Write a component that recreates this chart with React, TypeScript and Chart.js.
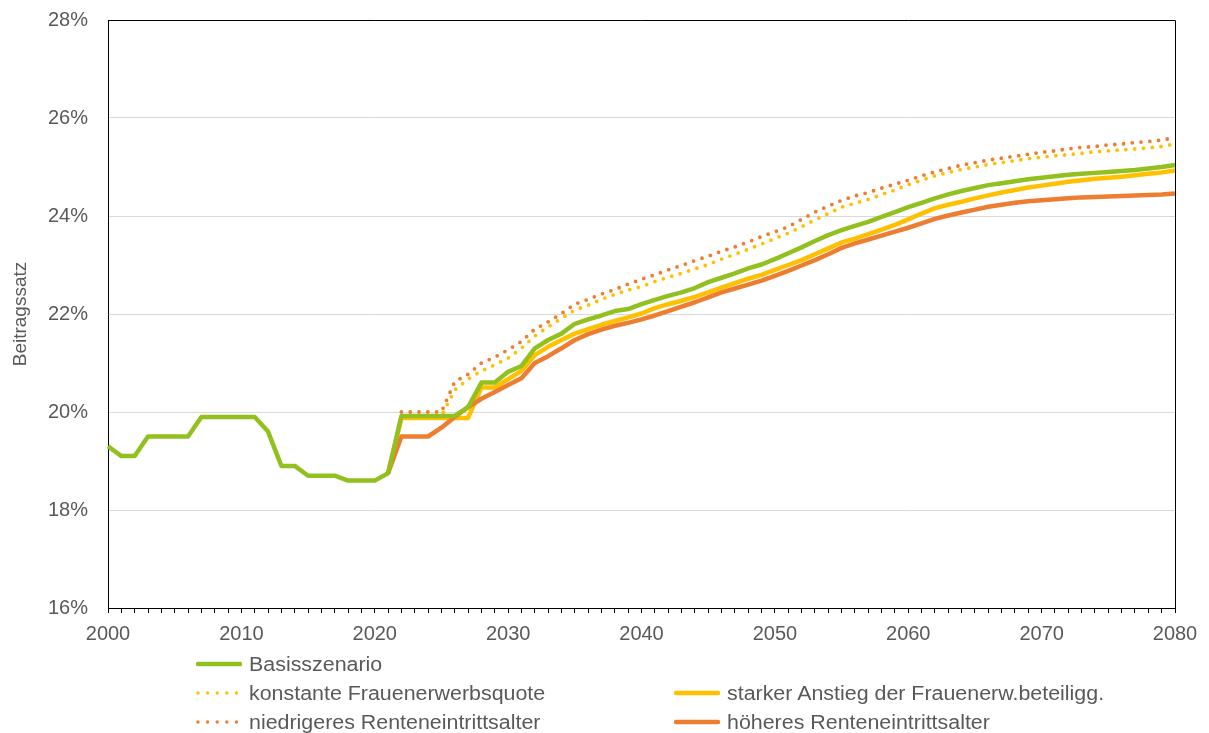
import React, { useEffect, useRef } from 'react';
import { Chart, registerables } from 'chart.js';

Chart.register(...registerables);

// ---- Data ----
const YEARS: number[] = Array.from({ length: 81 }, (_, i) => 2000 + i);

// Basisszenario 2000..2080
const BASIS: number[] = [
  19.3, 19.1, 19.1, 19.5, 19.5, 19.5, 19.5, 19.9, 19.9, 19.9,
  19.9, 19.9, 19.6, 18.9, 18.9, 18.7, 18.7, 18.7, 18.6, 18.6,
  18.6, 18.75, 19.92, 19.92, 19.92, 19.92, 19.92, 20.1, 20.6, 20.6,
  20.82, 20.94, 21.3, 21.47, 21.6, 21.8, 21.89, 21.97, 22.06, 22.1,
  22.2, 22.29, 22.37, 22.44, 22.53, 22.65, 22.74, 22.83, 22.93, 23.01,
  23.12, 23.24, 23.36, 23.49, 23.61, 23.71, 23.8, 23.88, 23.98, 24.08,
  24.18, 24.27, 24.36, 24.44, 24.51, 24.57, 24.63, 24.67, 24.71, 24.75,
  24.78, 24.81, 24.84, 24.86, 24.88, 24.9, 24.92, 24.94, 24.97, 25.0,
  25.04,
];

// konstante Frauenerwerbsquote 2022..2080
const KONSTANT_START = 2022;
const KONSTANT: number[] = [
  19.92, 19.92, 19.92, 19.92, 20.45, 20.67, 20.84, 20.96,
  21.1, 21.3, 21.55, 21.74, 21.91, 22.08, 22.18, 22.3, 22.4, 22.49,
  22.56, 22.66, 22.75, 22.83, 22.92, 23.01, 23.12, 23.22, 23.32, 23.43,
  23.54, 23.65, 23.78, 23.92, 24.05, 24.18, 24.26, 24.34, 24.44, 24.53,
  24.64, 24.73, 24.82, 24.89, 24.95, 25.0, 25.05, 25.09, 25.13, 25.17,
  25.2, 25.23, 25.25, 25.28, 25.31, 25.33, 25.35, 25.37, 25.39, 25.42,
  25.47,
];

// starker Anstieg der Frauenerw.beteiligg. 2021..2080
const STARK_START = 2021;
const STARK: number[] = [
  18.75, 19.88, 19.88, 19.88, 19.88, 19.88, 19.88, 20.5, 20.5,
  20.67, 20.84, 21.16, 21.33, 21.47, 21.6, 21.69, 21.78, 21.86, 21.93,
  22.01, 22.12, 22.2, 22.27, 22.35, 22.44, 22.54, 22.63, 22.72, 22.8,
  22.9, 23.0, 23.1, 23.22, 23.34, 23.46, 23.54, 23.63, 23.72, 23.82,
  23.93, 24.05, 24.16, 24.23, 24.29, 24.36, 24.42, 24.48, 24.53, 24.58,
  24.62, 24.66, 24.7, 24.73, 24.76, 24.78, 24.8, 24.83, 24.86, 24.89,
  24.93,
];

// niedrigeres Renteneintrittsalter 2022..2080
const NIEDRIG_START = 2022;
const NIEDRIG: number[] = [
  20.0, 20.0, 20.0, 20.0, 20.62, 20.77, 21.0, 21.12,
  21.27, 21.44, 21.69, 21.84, 22.01, 22.2, 22.3, 22.41, 22.5, 22.61,
  22.71, 22.8, 22.9, 22.99, 23.09, 23.18, 23.28, 23.37, 23.47, 23.58,
  23.68, 23.78, 23.93, 24.08, 24.2, 24.32, 24.41, 24.48, 24.57, 24.65,
  24.73, 24.82, 24.9, 24.97, 25.04, 25.09, 25.14, 25.18, 25.22, 25.26,
  25.3, 25.33, 25.37, 25.4, 25.42, 25.45, 25.47, 25.5, 25.52, 25.55,
  25.6,
];

// höheres Renteneintrittsalter 2021..2080
const HOEHER_START = 2021;
const HOEHER: number[] = [
  18.75, 19.5, 19.5, 19.5, 19.68, 19.9, 20.1, 20.27, 20.41,
  20.55, 20.69, 21.0, 21.14, 21.3, 21.47, 21.59, 21.68, 21.76, 21.82,
  21.89, 21.97, 22.06, 22.15, 22.24, 22.34, 22.44, 22.52, 22.6, 22.68,
  22.78, 22.88, 22.99, 23.1, 23.22, 23.35, 23.44, 23.52, 23.6, 23.68,
  23.76, 23.85, 23.94, 24.01, 24.07, 24.13, 24.19, 24.23, 24.27, 24.3,
  24.32, 24.34, 24.36, 24.38, 24.39, 24.4, 24.41, 24.42, 24.43, 24.44,
  24.46,
];

const Y_TICKS_MIN = 16;
const Y_TICKS_MAX = 28;
const Y_STEP = 2;

const LABELS = {
  basis: 'Basisszenario',
  konstant: 'konstante Frauenerwerbsquote',
  stark: 'starker Anstieg der Frauenerw.beteiligg.',
  niedrig: 'niedrigeres Renteneintrittsalter',
  hoeher: 'höheres Renteneintrittsalter',
};
const Y_TITLE = 'Beitragssatz';

const GREEN = '#92C01F';
const YELLOW = '#FFC000';
const ORANGE = '#ED7D31';
const TEXT = '#595959';
const FONT = "'Liberation Sans', Arial, sans-serif";

function pad(start: number, values: number[]): (number | null)[] {
  return YEARS.map((y) => (y < start ? null : values[y - start] ?? null));
}

const framePlugin = {
  id: 'frame',
  afterDatasetsDraw(chart: any) {
    const { ctx, chartArea } = chart;
    const { left, top, right, bottom } = chartArea;
    ctx.save();
    ctx.strokeStyle = '#000';
    ctx.lineWidth = 1;
    ctx.beginPath();
    ctx.moveTo(left, Math.round(top) + 0.5);
    ctx.lineTo(Math.round(right) + 0.5, Math.round(top) + 0.5);
    ctx.lineTo(Math.round(right) + 0.5, bottom);
    ctx.stroke();
    ctx.restore();
  },
};

function LegendSample({ color, dotted }: { color: string; dotted: boolean }) {
  return (
    <svg width={46} height={10} style={{ display: 'block' }}>
      {dotted ? (
        <line x1={2} y1={5} x2={42} y2={5} stroke={color} strokeWidth={3.4}
          strokeLinecap="round" strokeDasharray="0 9.6" />
      ) : (
        <line x1={2} y1={5} x2={44} y2={5} stroke={color} strokeWidth={4.5}
          strokeLinecap="round" />
      )}
    </svg>
  );
}

function LegendItem({ x, y, color, dotted, text }: { x: number; y: number; color: string; dotted: boolean; text: string }) {
  return (
    <div style={{ position: 'absolute', left: x, top: y - 13, height: 26, display: 'flex', alignItems: 'center', whiteSpace: 'nowrap' }}>
      <LegendSample color={color} dotted={dotted} />
      <span style={{ marginLeft: 7, fontFamily: FONT, fontSize: 20, color: TEXT, display: 'inline-block', transform: 'scaleX(1.07)', transformOrigin: 'left center' }}>{text}</span>
    </div>
  );
}

export default function App() {
  const canvasRef = useRef<HTMLCanvasElement | null>(null);

  useEffect(() => {
    if (!canvasRef.current) return;
    const line = (label: string, data: (number | null)[], color: string, dotted: boolean, order: number) => ({
      label,
      data,
      borderColor: color,
      backgroundColor: color,
      borderWidth: dotted ? 3.8 : 4.5,
      borderDash: dotted ? [0, 8.8] : [],
      borderCapStyle: dotted ? 'round' : 'butt',
      borderJoinStyle: 'round',
      pointRadius: 0,
      pointHoverRadius: 0,
      tension: 0,
      fill: false,
      spanGaps: false,
      order,
    });

    const chart = new Chart(canvasRef.current, {
      type: 'line',
      data: {
        labels: YEARS.map(String),
        datasets: [
          line(LABELS.niedrig, pad(NIEDRIG_START, NIEDRIG), ORANGE, true, 5),
          line(LABELS.konstant, pad(KONSTANT_START, KONSTANT), YELLOW, true, 4),
          line(LABELS.stark, pad(STARK_START, STARK), YELLOW, false, 3),
          line(LABELS.hoeher, pad(HOEHER_START, HOEHER), ORANGE, false, 2),
          line(LABELS.basis, BASIS, GREEN, false, 1),
        ] as any,
      },
      options: {
        animation: false,
        responsive: false,
        maintainAspectRatio: false,
        layout: { padding: { top: 20, right: 34, bottom: 85, left: 0 } },
        plugins: {
          legend: { display: false },
          tooltip: { enabled: false },
          title: { display: false },
        },
        scales: {
          x: {
            type: 'category',
            offset: false,
            grid: {
              display: true,
              drawOnChartArea: false,
              drawTicks: true,
              tickLength: 5,
              color: '#000',
              offset: false,
            },
            border: { display: true, color: '#000', width: 1 },
            ticks: {
              autoSkip: false,
              maxRotation: 0,
              minRotation: 0,
              padding: 9,
              color: TEXT,
              font: { family: FONT, size: 20 },
              callback: (_v: any, i: number) => (YEARS[i] % 10 === 0 ? String(YEARS[i]) : ''),
            },
            afterFit: (s: any) => { s.height = 40; },
          },
          y: {
            min: Y_TICKS_MIN,
            max: Y_TICKS_MAX,
            ticks: {
              stepSize: Y_STEP,
              padding: 0,
              color: TEXT,
              font: { family: FONT, size: 20 },
              callback: (v: any) => `${v}%`,
            },
            grid: {
              color: '#D9D9D9',
              lineWidth: 1,
              drawTicks: true,
              tickLength: 20,
              tickColor: 'rgba(0,0,0,0)',
            },
            border: { display: true, color: '#000', width: 1 },
            title: {
              display: true,
              text: Y_TITLE,
              color: TEXT,
              font: { family: FONT, size: 19 },
              padding: { top: 9, bottom: 0 },
            },
            afterFit: (s: any) => { s.width = 108; },
          },
        },
      } as any,
      plugins: [framePlugin],
    });
    return () => chart.destroy();
  }, []);

  return (
    <div style={{ position: 'absolute', left: 0, top: 0, width: 1209, height: 733, background: '#fff', overflow: 'hidden' }}>
      <canvas ref={canvasRef} width={1209} height={733} style={{ position: 'absolute', left: 0, top: 0 }} />
      <LegendItem x={196} y={664} color={GREEN} dotted={false} text={LABELS.basis} />
      <LegendItem x={196} y={693} color={YELLOW} dotted={true} text={LABELS.konstant} />
      <LegendItem x={196} y={722} color={ORANGE} dotted={true} text={LABELS.niedrig} />
      <LegendItem x={674} y={693} color={YELLOW} dotted={false} text={LABELS.stark} />
      <LegendItem x={674} y={722} color={ORANGE} dotted={false} text={LABELS.hoeher} />
    </div>
  );
}
